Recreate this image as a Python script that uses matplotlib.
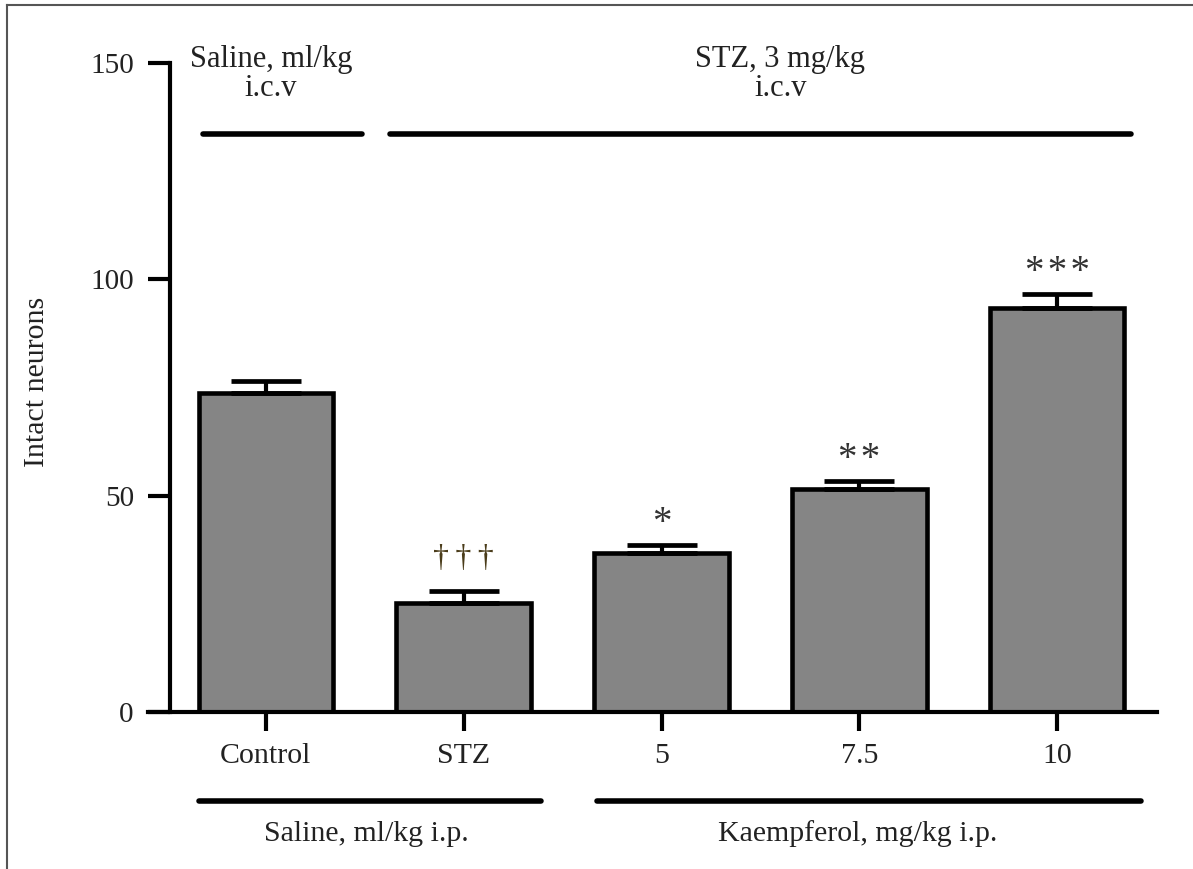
import matplotlib
matplotlib.use("Agg")
import matplotlib.pyplot as plt
from matplotlib.lines import Line2D

# ---- data ----
categories = ["Control", "STZ", "5", "7.5", "10"]
means = [73.7, 25.3, 36.7, 51.6, 93.4]
sem = [2.8, 2.6, 1.8, 1.7, 3.2]
marks = ["", "\u2020\u2020\u2020", "*", "**", "***"]
yticks = [0, 50, 100, 150]
ylabel = "Intact neurons"
top_groups = [("Saline, ml/kg", "i.c.v"), ("STZ, 3 mg/kg", "i.c.v")]
bottom_groups = ["Saline, ml/kg i.p.", "Kaempferol, mg/kg i.p."]

plt.rcParams["font.family"] = ["Liberation Serif", "DejaVu Serif"]

fig = plt.figure(figsize=(11.93, 8.69), dpi=100)
ax = fig.add_axes([148 / 1193, 1 - 712 / 869, (1157 - 148) / 1193, (712 - 63) / 869])

x = list(range(len(categories)))
ax.bar(x, means, width=0.68, color="#858585", edgecolor="black", linewidth=3.3, zorder=2)
ax.errorbar(x, means, yerr=[[0] * len(sem), sem], fmt="none", ecolor="black",
            elinewidth=3.0, capsize=25, capthick=3.4, zorder=3)

ax.set_xlim(-0.596, 4.505)
ax.set_ylim(0, 150)
ax.spines["top"].set_visible(False)
ax.spines["right"].set_visible(False)
ax.spines["left"].set_position(("data", -0.485))
ax.spines["left"].set_linewidth(3.0)
ax.spines["bottom"].set_linewidth(3.0)

ax.set_xticks(x)
ax.set_xticklabels(categories, fontsize=21.5)
ax.set_yticks(yticks)
ax.set_yticklabels([str(v) for v in yticks], fontsize=21)
ax.tick_params(axis="x", length=14, width=3.0, pad=8, colors="black")
ax.tick_params(axis="y", length=16, width=3.0, pad=10, colors="black")
for lab in ax.get_xticklabels() + ax.get_yticklabels():
    lab.set_color("#222222")

ax.set_ylabel(ylabel, fontsize=21.5, color="#222222")
ax.yaxis.set_label_coords(-0.0971, 0.508)

# significance marks
for i, (m, s, mk) in enumerate(zip(means, sem, marks)):
    if not mk:
        continue
    if mk.startswith("\u2020"):
        ax.text(i, m + s + 7.6, "\u2009".join(mk), ha="center", va="center", fontsize=23,
                color="#4a3c1a", clip_on=False)
    else:
        ax.text(i, m + s + 5.0, "\u200a".join(mk), ha="center", va="center", fontsize=28,
                color="#333333", clip_on=False)

# top group brackets (i.c.v)
top_spans = [(-0.318, 0.485), (0.626, 4.374)]
top_text_x = [0.025, 2.6]
for (l1, l2), (a, b), tx in zip(top_groups, top_spans, top_text_x):
    ax.add_line(Line2D([a, b], [133.6, 133.6], color="black", linewidth=4.0,
                       clip_on=False, solid_capstyle="round"))
    ax.text(tx, 150.7, l1, ha="center", va="center", fontsize=22, color="#222222", clip_on=False)
    ax.text(tx, 144.2, l2, ha="center", va="center", fontsize=22, color="#222222", clip_on=False)

# bottom group brackets (i.p.)
bottom_spans = [(-0.338, 1.389), (1.672, 4.424)]
bottom_text_x = [0.51, 2.99]
for lab, (a, b), tx in zip(bottom_groups, bottom_spans, bottom_text_x):
    ax.add_line(Line2D([a, b], [-20.6, -20.6], color="black", linewidth=4.0,
                       clip_on=False, solid_capstyle="round"))
    ax.text(tx, -28.2, lab, ha="center", va="center", fontsize=21.5, color="#222222", clip_on=False)

# partial frame (left and top edges of the cropped figure)
fig.add_artist(Line2D([7 / 1193, 7 / 1193], [0, 1 - 5 / 869], transform=fig.transFigure,
                      color="#555555", linewidth=1.5))
fig.add_artist(Line2D([7 / 1193, 1], [1 - 5 / 869, 1 - 5 / 869], transform=fig.transFigure,
                      color="#555555", linewidth=1.5))

fig.savefig("out.png", dpi=100)
